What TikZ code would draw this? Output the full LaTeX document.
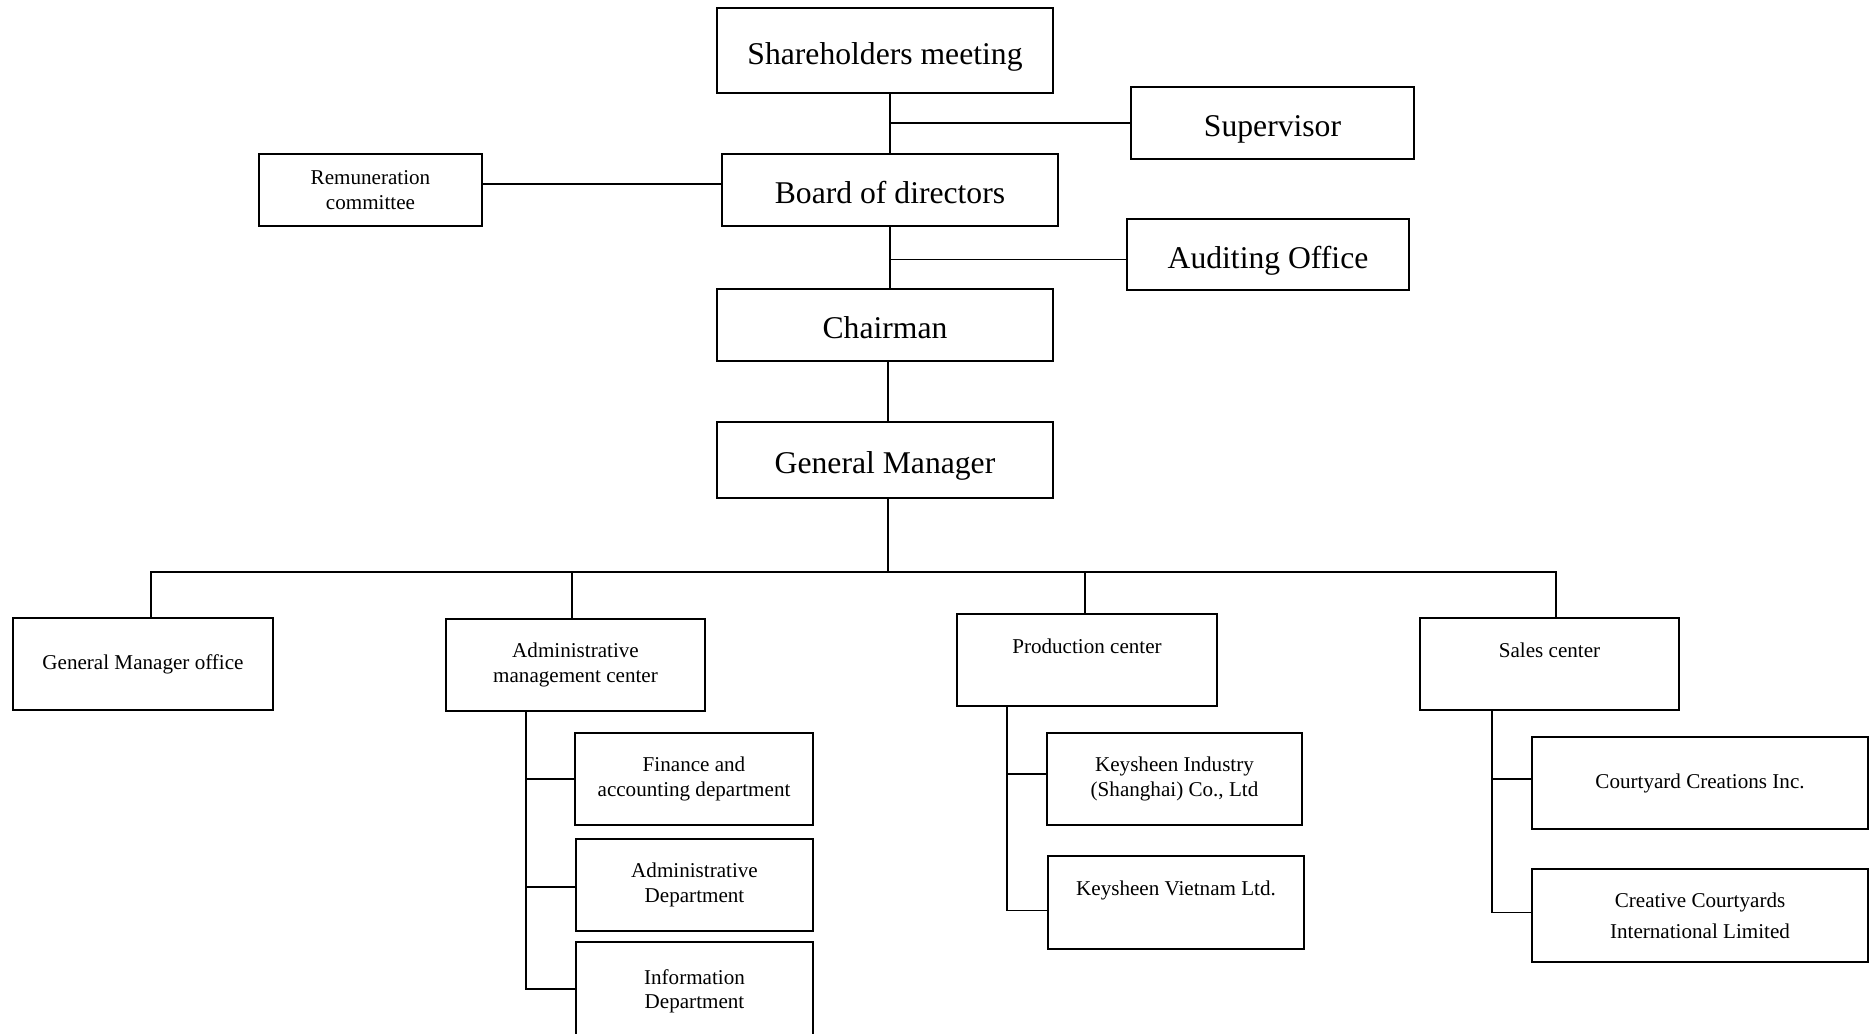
\documentclass[tikz,border=0pt]{standalone}
\usepackage{fontspec}
\setmainfont{Liberation Serif}
\begin{document}
\begin{tikzpicture}[x=0.01cm,y=-0.01cm,
    box/.style={draw,line width=0.6pt,align=center,inner sep=1pt},
    big/.style={box,font=\fontsize{9}{11}\selectfont,text height=0.34cm,text depth=0.07cm},
    small/.style={box,font=\fontsize{6}{6.9}\selectfont},
    raised/.style={text depth=0.28cm},
    link/.style={line width=0.5pt}]
    \useasboundingbox (0,0) rectangle (1874,1033);
    \clip (0,0) rectangle (1874,1033);

    % Top of the chart
    \node[big,minimum width=3.36cm,minimum height=0.85cm] (share) at (885,50.5) {Shareholders meeting};
    \node[big,minimum width=2.83cm,minimum height=0.72cm] (superv) at (1272.5,123) {Supervisor};
    \node[small,minimum width=2.23cm,minimum height=0.72cm] (remun) at (370.5,190) {Remuneration\\committee};
    \node[big,minimum width=3.36cm,minimum height=0.72cm] (board) at (890,190) {Board of directors};
    \node[big,minimum width=2.82cm,minimum height=0.71cm] (audit) at (1268,254.5) {Auditing Office};
    \node[big,minimum width=3.36cm,minimum height=0.72cm] (chair) at (885,325) {Chairman};
    \node[big,minimum width=3.36cm,minimum height=0.76cm] (gm) at (885,460) {General Manager};

    % Centers
    \node[small,minimum width=2.6cm,minimum height=0.92cm] (gmo) at (143,664) {General Manager office};
    \node[small,minimum width=2.59cm,minimum height=0.92cm] (adm) at (575.5,665) {Administrative\\management center};
    \node[small,raised,minimum width=2.6cm,minimum height=0.92cm] (prod) at (1087,660) {Production center};
    \node[small,raised,minimum width=2.59cm,minimum height=0.92cm] (sales) at (1549.5,664) {Sales center};

    % Departments and companies
    \node[small,minimum width=2.38cm,minimum height=0.92cm] (fin) at (694,779) {Finance and\\accounting department};
    \node[small,minimum width=2.37cm,minimum height=0.92cm] (admd) at (694.5,885) {Administrative\\Department};
    \node[small,minimum width=2.37cm,minimum height=0.98cm] (info) at (694.5,991) {Information\\Department};
    \node[small,minimum width=2.55cm,minimum height=0.92cm] (ksi) at (1174.5,779) {Keysheen Industry\\(Shanghai) Co., Ltd};
    \node[small,raised,minimum width=2.56cm,minimum height=0.93cm] (ksv) at (1176,902.5) {Keysheen Vietnam Ltd.};
    \node[small,minimum width=3.36cm,minimum height=0.92cm] (cci) at (1700,783) {Courtyard Creations Inc.};
    \node[small,minimum width=3.36cm,minimum height=0.93cm] (ccil) at (1700,915.5) {Creative Courtyards\\[1.9pt]International Limited};

    % Lines of the upper part
    \draw[link] (board.north) -- (board.north |- share.south);
    \draw[link] (superv.west) -- (superv.west -| board.north);
    \draw[link] ([yshift=0.06cm]remun.east) -- ([yshift=0.06cm]board.west);
    \draw[link] (board.south) -- (board.south |- chair.north);
    \draw[link] ([yshift=-0.05cm]audit.west) -- ([yshift=-0.05cm]audit.west -| board.south);

    % Trunk and bus to the centers
    \coordinate (bus) at (888,572);
    \coordinate (busleft) at (151,572);
    \coordinate (busright) at (1556,572);
    \draw[link] (chair.south -| bus) -- (gm.north -| bus);
    \draw[link] (gm.south -| bus) -- (bus);
    \draw[link] (busleft |- gmo.north) -- (busleft) -- (busright) -- (busright |- sales.north);
    \draw[link] ([xshift=-0.035cm]adm.north) -- ([xshift=-0.035cm]adm.north |- bus);
    \draw[link] ([xshift=-0.02cm]prod.north) -- ([xshift=-0.02cm]prod.north |- bus);

    % Branches under the centers
    \coordinate (admtrunk) at (526,711);
    \coordinate (prodtrunk) at (1007,706);
    \coordinate (salestrunk) at (1492,710);
    \draw[link] (admtrunk) |- (fin.west);
    \draw[link] (admtrunk) |- ([yshift=-0.02cm]admd.west);
    \draw[link] (admtrunk) |- ([yshift=0.02cm]info.west);
    \draw[link] (prodtrunk) |- ([yshift=0.05cm]ksi.west);
    \draw[link] (prodtrunk) |- ([yshift=-0.08cm]ksv.west);
    \draw[link] (salestrunk) |- ([yshift=0.04cm]cci.west);
    \draw[link] (salestrunk) |- ([yshift=0.03cm]ccil.west);

\end{tikzpicture}
\end{document}
